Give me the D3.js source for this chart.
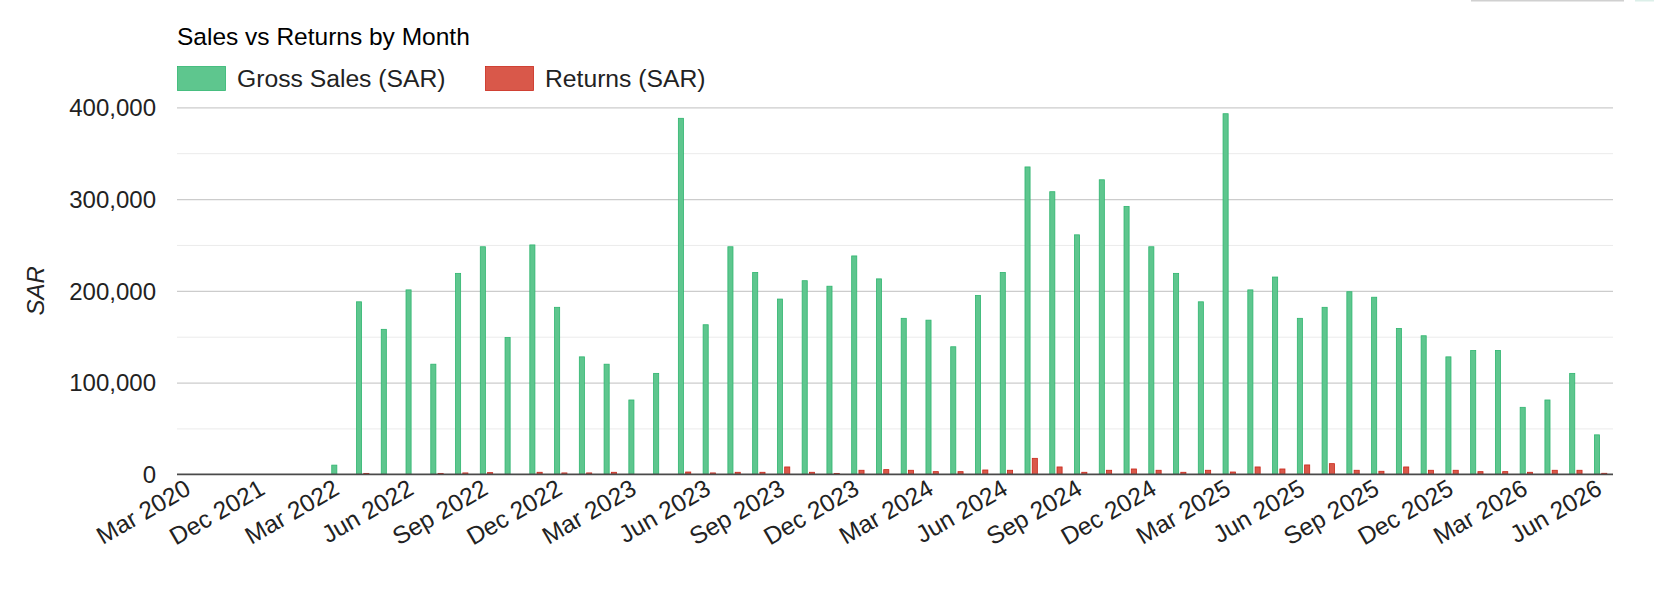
<!DOCTYPE html>
<html>
<head>
<meta charset="utf-8">
<script src="https://cdn.jsdelivr.net/npm/d3@7/dist/d3.min.js"></script>
<style>
  html, body { margin: 0; padding: 0; background: #fff; }
  svg { display: block; }
  text { font-family: "Liberation Sans", Arial, Helvetica, sans-serif; }
</style>
</head>
<body>
<svg id="chart" width="1654" height="604"></svg>
<script>
const months = [
  "Mar 2020","Oct 2021","Nov 2021","Dec 2021","Jan 2022","Feb 2022",
  "Mar 2022","Apr 2022","May 2022","Jun 2022","Jul 2022","Aug 2022",
  "Sep 2022","Oct 2022","Nov 2022","Dec 2022","Jan 2023","Feb 2023",
  "Mar 2023","Apr 2023","May 2023","Jun 2023","Jul 2023","Aug 2023",
  "Sep 2023","Oct 2023","Nov 2023","Dec 2023","Jan 2024","Feb 2024",
  "Mar 2024","Apr 2024","May 2024","Jun 2024","Jul 2024","Aug 2024",
  "Sep 2024","Oct 2024","Nov 2024","Dec 2024","Jan 2025","Feb 2025",
  "Mar 2025","Apr 2025","May 2025","Jun 2025","Jul 2025","Aug 2025",
  "Sep 2025","Oct 2025","Nov 2025","Dec 2025","Jan 2026","Feb 2026",
  "Mar 2026","Apr 2026","May 2026","Jun 2026"
];
const grossSales = [
  0, 0, 0, 0, 0, 0,
  10000, 188000, 158000, 201000, 120000, 219000,
  248000, 149000, 250000, 182000, 128000, 120000,
  81000, 110000, 388000, 163000, 248000, 220000,
  191000, 211000, 205000, 238000, 213000, 170000,
  168000, 139000, 195000, 220000, 335000, 308000,
  261000, 321000, 292000, 248000, 219000, 188000,
  393000, 201000, 215000, 170000, 182000, 199000,
  193000, 159000, 151000, 128000, 135000, 135000,
  73000, 81000, 110000, 43000
];
const returnsSAR = [
  0, 0, 0, 0, 0, 0,
  0, 1000, 0, 0, 1000, 1500,
  1800, 0, 2200, 1500, 1500, 2200,
  0, 0, 2500, 1500, 2200, 2200,
  8000, 2200, 1000, 4400, 5100, 4400,
  2900, 2900, 4700, 4400, 17400, 8000,
  2200, 4400, 5800, 4400, 2200, 4400,
  2500, 8000, 5800, 10200, 11600, 4400,
  3300, 8000, 4400, 4400, 2900, 2900,
  2200, 4400, 4400, 1100
];
const seriesNames = ["Gross Sales (SAR)", "Returns (SAR)"];
const yTicks = [0, 100000, 200000, 300000, 400000];
const yMinorTicks = [50000, 150000, 250000, 350000];
const chartTitle = "Sales vs Returns by Month";
const yAxisTitle = "SAR";

const colors = { fill: ["#5ec68e", "#d9584a"], stroke: ["#2fb56f", "#c9271a"] };

const svg = d3.select("#chart");
const pLeft = 177, pRight = 1613, pTop = 107.3, pBottom = 474.3;

svg.append("rect").attr("width", 1654).attr("height", 604).attr("fill", "#fff");
// top-right artifacts
svg.append("rect").attr("x", 1471).attr("y", 0).attr("width", 153).attr("height", 1.5).attr("fill", "#d0d0d0");
svg.append("rect").attr("x", 1635).attr("y", 0).attr("width", 19).attr("height", 1.5).attr("fill", "#dcefe9");

const x0 = d3.scaleBand().domain(months).range([pLeft, pRight]).paddingInner(0.5).paddingOuter(0.25);
const keys = ["sales", "returns"];
const x1 = d3.scaleBand().domain(keys).range([0, x0.bandwidth()]).paddingInner(0.3);
const y = d3.scaleLinear().domain([0, 400000]).range([pBottom, pTop]);

// minor gridlines
svg.append("g")
  .attr("transform", `translate(${pLeft},0)`)
  .call(d3.axisLeft(y).tickValues(yMinorTicks).tickSize(-(pRight - pLeft)).tickFormat(""))
  .call(g => g.select(".domain").remove())
  .call(g => g.selectAll("line").attr("stroke", "#ebebeb").attr("stroke-width", 1));

// major gridlines
svg.append("g")
  .attr("transform", `translate(${pLeft},0)`)
  .call(d3.axisLeft(y).tickValues(yTicks.filter(d => d > 0)).tickSize(-(pRight - pLeft)).tickFormat(""))
  .call(g => g.select(".domain").remove())
  .call(g => g.selectAll("line").attr("stroke", "#cccccc").attr("stroke-width", 1.2));

// y labels
svg.append("g")
  .attr("transform", `translate(${pLeft - 21},0)`)
  .call(d3.axisLeft(y).tickValues(yTicks).tickSize(0).tickPadding(0).tickFormat(d3.format(",")))
  .call(g => g.select(".domain").remove())
  .call(g => g.selectAll("text")
    .attr("font-size", 24).attr("fill", "#222").attr("dy", "0.35em")
    .style("font-family", "'Liberation Sans', Arial, sans-serif"));

// bars
const data = months.map((m, i) => ({ m, sales: grossSales[i], returns: returnsSAR[i] }));
const groups = svg.append("g").selectAll("g").data(data).join("g")
  .attr("transform", d => `translate(${x0(d.m)},0)`);
groups.selectAll("rect")
  .data(d => keys.map((k, j) => ({ k, j, v: d[k] })).filter(e => e.v > 0))
  .join("rect")
  .attr("x", e => x1(e.k))
  .attr("width", x1.bandwidth())
  .attr("y", e => y(e.v))
  .attr("height", e => y(0) - y(e.v))
  .attr("fill", e => colors.fill[e.j])
  .attr("stroke", e => colors.stroke[e.j])
  .attr("stroke-width", 0.8);

// baseline
svg.append("g")
  .attr("transform", `translate(0,${pBottom})`)
  .call(d3.axisBottom(x0).tickSize(0).tickFormat(""))
  .call(g => g.select(".domain").attr("stroke", "#4a4a4a").attr("stroke-width", 1.8).attr("d", `M${pLeft},0H${pRight}`));

// x labels
svg.append("g")
  .attr("transform", `translate(0,${pBottom})`)
  .call(d3.axisBottom(x0).tickValues(months.filter((m, i) => i % 3 === 0)).tickSize(0).tickPadding(0))
  .call(g => g.select(".domain").remove())
  .call(g => g.selectAll("text")
    .attr("font-size", 24.5).attr("fill", "#222")
    .attr("y", 0).attr("dy", 0)
    .attr("text-anchor", "end")
    .attr("transform", "translate(3,19) rotate(-30)")
    .style("font-family", "'Liberation Sans', Arial, sans-serif"));

// y axis title
svg.append("text")
  .attr("transform", `translate(44,${(pTop + pBottom) / 2}) rotate(-90)`)
  .attr("text-anchor", "middle")
  .attr("font-size", 24).attr("font-style", "italic").attr("fill", "#222")
  .text(yAxisTitle);

// title
svg.append("text").attr("x", 177).attr("y", 45).attr("font-size", 24.5).attr("fill", "#000").text(chartTitle);

// legend
const legendX = [177, 485];
seriesNames.forEach((name, i) => {
  svg.append("rect").attr("x", legendX[i] + 0.5).attr("y", 66.5).attr("width", 48).attr("height", 24)
    .attr("fill", colors.fill[i]).attr("stroke", colors.stroke[i]).attr("stroke-width", 0.8);
  svg.append("text").attr("x", legendX[i] + 60).attr("y", 87).attr("font-size", 24.7).attr("fill", "#222").text(name);
});
</script>
</body>
</html>
